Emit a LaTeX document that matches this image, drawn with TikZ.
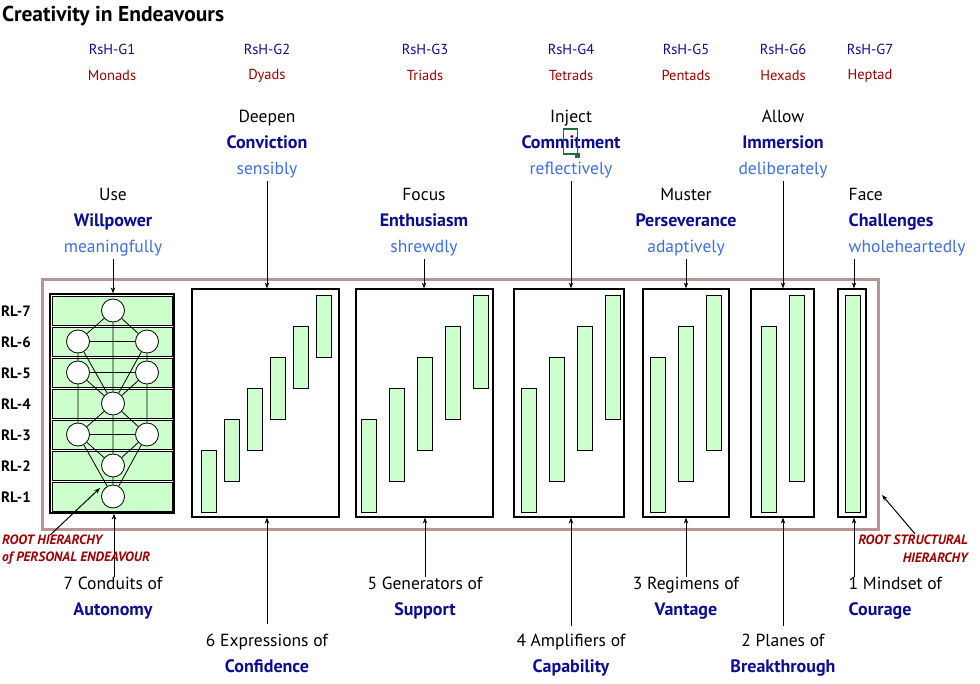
\documentclass[tikz,border=0pt]{standalone}
\usepackage{fontspec}
\setmainfont{PT Sans}
\usetikzlibrary{arrows.meta}
\definecolor{navy}{RGB}{12,12,150}
\definecolor{lblue}{RGB}{60,110,240}
\definecolor{dred}{RGB}{160,0,0}
\definecolor{lgreen}{RGB}{204,255,204}
\definecolor{rosy}{RGB}{185,148,148}
\definecolor{mgreen}{RGB}{30,110,60}
\begin{document}
\begin{tikzpicture}[x=1pt,y=-1pt,
  lbl/.style={inner sep=1.5pt, text height=13pt, text depth=4.5pt, font=\fontsize{17.5}{20}\selectfont},
  verb/.style={lbl, text=black},
  key/.style={lbl, text=navy, font=\fontsize{18}{20}\selectfont\bfseries},
  adv/.style={lbl, text=lblue},
  hdr/.style={inner sep=1pt, font=\fontsize{14.5}{17}\selectfont},
  rl/.style={inner sep=0pt, anchor=west, font=\fontsize{15}{17}\selectfont\bfseries},
  note/.style={inner sep=0pt, text=dred, font=\fontsize{13.5}{15}\selectfont\bfseries\itshape},
  panel/.style={draw=black, line width=1.2pt, fill=white, inner sep=0pt},
  bar/.style={draw=black, line width=1pt, fill=lgreen, inner sep=0pt, minimum width=15pt, anchor=north west},
  row/.style={draw=black, line width=1pt, fill=lgreen, inner sep=0pt, minimum width=120pt, minimum height=29pt, anchor=north west},
  sph/.style={circle, draw=black, line width=0.8pt, fill=white, minimum size=23pt, inner sep=0pt},
  arr/.style={-{Stealth[length=6pt,width=4.5pt]}, line width=0.8pt},
  tl/.style={line width=0.8pt}]
\useasboundingbox (0,0) rectangle (980,684);
% title
\node[anchor=west, inner sep=0pt, font=\fontsize{21.5}{24}\selectfont\bfseries] (title) at (2,16.5) {Creativity in Endeavours};
% headers
\foreach \x/\g/\n [count=\i] in {112/RsH-G1/Monads, 267/RsH-G2/Dyads, 425/RsH-G3/Triads, 571/RsH-G4/Tetrads, 686/RsH-G5/Pentads, 783/RsH-G6/Hexads, 870/RsH-G7/Heptad}{
  \node[hdr, text=navy] (g\i) at (\x,49.5) {\g};
  \node[hdr, text=dred] (f\i) at (\x,75.5) {\n};
}
% outer border
\node[draw=rosy, line width=3pt, inner sep=0pt, minimum width=836pt, minimum height=249pt] (outer) at (460,404.5) {};
% panels
\node[panel, minimum width=124pt, minimum height=219pt] (p1) at (112,403.5) {};
\node[panel, minimum width=147pt, minimum height=228pt] (p2) at (265.5,403) {};
\node[panel, minimum width=137pt, minimum height=228pt] (p3) at (424.5,403) {};
\node[panel, minimum width=110pt, minimum height=228pt] (p4) at (569,403) {};
\node[panel, minimum width=86pt, minimum height=228pt] (p5) at (686,403) {};
\node[panel, minimum width=63pt, minimum height=228pt] (p6) at (782.5,403) {};
\node[panel, minimum width=28pt, minimum height=228pt] (p7) at (852,403) {};
% rows of panel 1
\foreach \k in {0,...,6}{
  \node[row] (row\k) at (52,296+31*\k) {};
}
% RL labels
\foreach \k/\t in {0/RL-7,1/RL-6,2/RL-5,3/RL-4,4/RL-3,5/RL-2,6/RL-1}{
  \node[rl] (rl\k) at (1,311+31*\k) {\t};
}
% tree
\node[sph] (c7) at (113,310.5) {};
\node[sph] (c6l) at (78,341.5) {};
\node[sph] (c6r) at (147,341.5) {};
\node[sph] (c5l) at (78,372.5) {};
\node[sph] (c5r) at (147,372.5) {};
\node[sph] (c4) at (113,403.5) {};
\node[sph] (c3l) at (78,434.5) {};
\node[sph] (c3r) at (147,434.5) {};
\node[sph] (c2) at (113,465.5) {};
\node[sph] (c1) at (113,496.5) {};
\draw[tl] (c7) -- (c6l) (c7) -- (c6r) (c7) -- (c4)
  (c6l) -- (c6r) (c6l) -- (c5l) (c6r) -- (c5r) (c6l) -- (c4) (c6r) -- (c4)
  (c5l) -- (c5r) (c5l) -- (c4) (c5r) -- (c4) (c5l) -- (c3l) (c5r) -- (c3r)
  (c4) -- (c3l) (c4) -- (c3r) (c4) -- (c2)
  (c3l) -- (c3r) (c3l) -- (c2) (c3r) -- (c2) (c3l) -- (c1) (c3r) -- (c1)
  (c2) -- (c1);
% bars
\foreach \i in {0,...,5}{ \node[bar, minimum height=62pt] (d\i) at (201+23*\i,450-31*\i) {}; }
\foreach \i in {0,...,4}{ \node[bar, minimum height=93pt] (t\i) at (361+28*\i,419-31*\i) {}; }
\foreach \i in {0,...,3}{ \node[bar, minimum height=124pt] (q\i) at (521+28*\i,388-31*\i) {}; }
\foreach \i in {0,...,2}{ \node[bar, minimum height=155pt] (pe\i) at (650+28*\i,357-31*\i) {}; }
\foreach \i in {0,...,1}{ \node[bar, minimum height=186pt] (hx\i) at (761+28*\i,326-31*\i) {}; }
\node[bar, minimum height=217pt] (hp0) at (845,295) {};
% top labels
\node[verb] (v1) at (113,196.5) {Use};
\node[key] (k1) at (113,222.5) {Willpower};
\node[adv] (a1) at (113,248.5) {meaningfully};
\node[verb] (v2) at (267,118.5) {Deepen};
\node[key] (k2) at (267,144.5) {Conviction};
\node[adv] (a2) at (267,170.5) {sensibly};
\node[verb] (v3) at (424,196.5) {Focus};
\node[key] (k3) at (424,222.5) {Enthusiasm};
\node[adv] (a3) at (424,248.5) {shrewdly};
\node[verb] (v4) at (571,118.5) {Inject};
\node[key] (k4) at (571,144.5) {Commitment};
\node[adv] (a4) at (571,170.5) {reflectively};
\node[verb] (v5) at (686,196.5) {Muster};
\node[key] (k5) at (686,222.5) {Perseverance};
\node[adv] (a5) at (686,248.5) {adaptively};
\node[verb] (v6) at (783,118.5) {Allow};
\node[key] (k6) at (783,144.5) {Immersion};
\node[adv] (a6) at (783,170.5) {deliberately};
\node[verb, anchor=west] (v7) at (847,196.5) {Face};
\node[key, anchor=west] (k7) at (847,222.5) {Challenges};
\node[adv, anchor=west] (a7) at (847,248.5) {wholeheartedly};
% selection marker
\node[draw=mgreen, line width=1.2pt, minimum width=14pt, minimum height=25pt, inner sep=0pt] (sel) at (570.5,141.5) {};
\node[fill=mgreen, minimum size=5pt, inner sep=0pt] (selh) at (577.5,155.5) {};
% bottom labels
\node[verb] (b1) at (113,585.5) {7 Conduits of};
\node[key] (e1) at (113,611.5) {Autonomy};
\node[verb] (b2) at (267,642.5) {6 Expressions of};
\node[key] (e2) at (267,668.5) {Confidence};
\node[verb] (b3) at (425,585.5) {5 Generators of};
\node[key] (e3) at (425,611.5) {Support};
\node[verb] (b4) at (571,642.5) {4 Amplifiers of};
\node[key] (e4) at (571,668.5) {Capability};
\node[verb] (b5) at (686,585.5) {3 Regimens of};
\node[key] (e5) at (686,611.5) {Vantage};
\node[verb] (b6) at (783,642.5) {2 Planes of};
\node[key] (e6) at (783,668.5) {Breakthrough};
\node[verb, anchor=west] (b7) at (847,585.5) {1 Mindset of};
\node[key, anchor=west] (e7) at (847,611.5) {Courage};
% top arrows
\draw[arr] (a1.south) -- (a1.south |- p1.north);
\draw[arr] (a2.south) -- (a2.south |- p2.north);
\draw[arr] (a3.south) -- (a3.south |- p3.north);
\draw[arr] (a4.south) -- (a4.south |- p4.north);
\draw[arr] (a5.south) -- (a5.south |- p5.north);
\draw[arr] (a6.south) -- (a6.south |- p6.north);
\draw[arr] ([xshift=2pt]p7.north |- a7.south) -- ([xshift=2pt]p7.north);
% bottom arrows
\draw[arr] ([xshift=2pt,yshift=-2pt]p1.south |- b1.north) -- ([xshift=2pt]p1.south);
\draw[arr] ([yshift=8pt]b2.north) -- (b2.north |- p2.south);
\draw[arr] ([yshift=-2pt]b3.north) -- (b3.north |- p3.south);
\draw[arr] ([yshift=6pt]b4.north) -- (b4.north |- p4.south);
\draw[arr] ([yshift=-2pt]b5.north) -- (b5.north |- p5.south);
\draw[arr] ([yshift=6pt]b6.north) -- (b6.north |- p6.south);
\draw[arr] ([xshift=2pt,yshift=-2pt]p7.south |- b7.north) -- ([xshift=2pt]p7.south);
% root annotations
\node[note, anchor=west] (rh1) at (2,540) {ROOT HIERARCHY};
\node[note, anchor=west] (rh2) at (2,558) {of PERSONAL ENDEAVOUR};
\node[note, anchor=east] (rs1) at (968,540) {ROOT STRUCTURAL};
\node[note, anchor=east] (rs2) at (968,558) {HIERARCHY};
\coordinate (rhtip) at (100,488);
\coordinate (rstip) at (882,495);
\draw[arr, line width=1pt] ([xshift=-2pt]rh1.north) -- (rhtip);
\draw[arr, line width=1pt] ([xshift=2pt,yshift=1pt]rs1.north) -- (rstip);
\end{tikzpicture}
\end{document}
